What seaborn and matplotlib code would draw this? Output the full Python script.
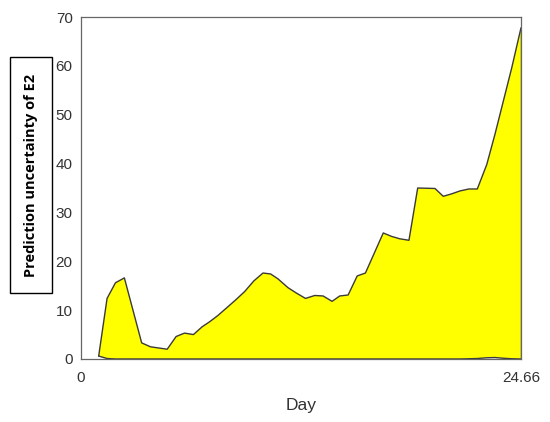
import matplotlib
matplotlib.use("Agg")
import matplotlib.pyplot as plt
import seaborn as sns
import numpy as np
import pandas as pd

# Data
day = [0.99, 1.46, 1.93, 2.43, 3.40, 3.89, 4.83, 5.33, 5.80, 6.30, 6.79, 7.20,
       7.67, 8.14, 8.70, 9.17, 9.69, 10.20, 10.63, 11.04, 11.60, 12.07, 12.58,
       13.10, 13.57, 14.07, 14.50, 14.97, 15.48, 15.94, 16.94, 17.40, 17.87,
       18.38, 18.87, 19.84, 20.30, 20.77, 21.24, 21.74, 22.21, 22.74, 23.20,
       23.67, 24.14, 24.66]
upper = [0.6, 12.4, 15.6, 16.6, 3.3, 2.5, 2.0, 4.6, 5.3, 5.0, 6.6, 7.6,
         8.9, 10.4, 12.2, 13.8, 16.0, 17.6, 17.4, 16.4, 14.6, 13.5, 12.4,
         13.0, 12.9, 11.8, 12.9, 13.1, 17.0, 17.6, 25.8, 25.1, 24.6,
         24.3, 35.0, 34.9, 33.3, 33.8, 34.4, 34.8, 34.8, 39.8, 46.0,
         52.8, 59.6, 67.8]
lower = [0.6, 0.1, 0.0, 0.0, 0.0, 0.0, 0.0, 0.0, 0.0, 0.0, 0.0, 0.0,
         0.0, 0.0, 0.0, 0.0, 0.0, 0.0, 0.0, 0.0, 0.0, 0.0, 0.0,
         0.0, 0.0, 0.0, 0.0, 0.0, 0.0, 0.0, 0.0, 0.0, 0.0,
         0.0, 0.0, 0.0, 0.0, 0.0, 0.0, 0.05, 0.1, 0.25, 0.3,
         0.15, 0.05, 0.0]
x_ticks = [0, 24.66]
x_tick_labels = ["0", "24.66"]
y_ticks = [0, 10, 20, 30, 40, 50, 60, 70]

df = pd.DataFrame({"Day": day, "upper": upper, "lower": lower})

sns.set_theme(style="white")
plt.rcParams["font.family"] = ["Liberation Sans", "DejaVu Sans"]

fig = plt.figure(figsize=(5.5, 4.22), dpi=100)
ax = fig.add_axes([0.1473, 0.1493, 0.8, 0.8104])

edge = "#3a3a3a"
ax.fill_between(df["Day"], df["lower"], df["upper"], facecolor="#FFFF00",
                edgecolor="none", zorder=1)
sns.lineplot(data=df, x="Day", y="upper", ax=ax, color=edge, lw=1.0,
             zorder=2, estimator=None)
sns.lineplot(data=df, x="Day", y="lower", ax=ax, color=edge, lw=1.0,
             zorder=2, estimator=None)
ax.plot([day[-1], day[-1]], [lower[-1], upper[-1]], color=edge, lw=1.0, zorder=2)

ax.set_xlim(0, 24.66)
ax.set_ylim(0, 70)
ax.set_xticks(x_ticks)
ax.set_xticklabels(x_tick_labels)
ax.set_yticks(y_ticks)

tick_col = "#333333"
ax.tick_params(axis="both", direction="in", length=4, width=0.8,
               colors="#555555", labelcolor=tick_col, labelsize=11)
ax.tick_params(axis="y", pad=6)
ax.tick_params(axis="x", pad=9)
for s in ax.spines.values():
    s.set_color("#666666")
    s.set_linewidth(0.9)
    s.set_visible(True)

ax.set_xlabel("Day", fontsize=12.5, color=tick_col, labelpad=9)
ax.set_ylabel("\u2009Prediction uncertainty of E2\u2009", fontsize=10.5,
              fontweight="bold", color="black",
              family=["Open Sans", "DejaVu Sans"],
              bbox=dict(boxstyle="square,pad=0.95", facecolor="white",
                        edgecolor="black", lw=1.0))
ax.yaxis.label.set_va("center")
ax.yaxis.set_label_coords(-0.1136, 0.538)

fig.savefig("out.png", dpi=100)
